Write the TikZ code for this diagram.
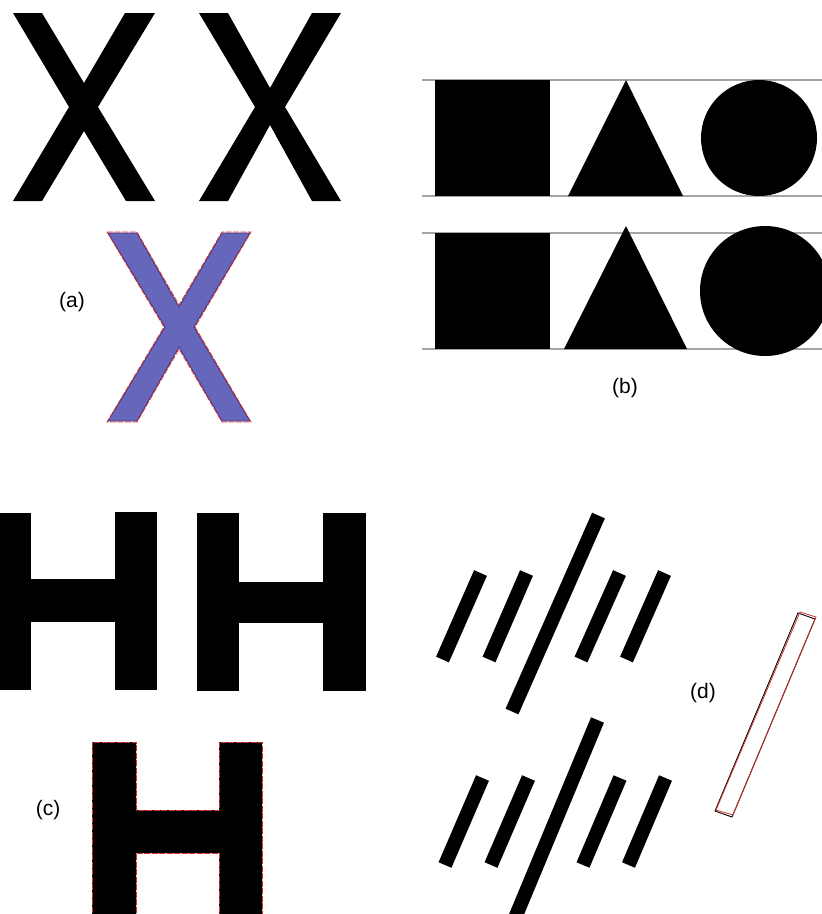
\documentclass[tikz,border=0pt]{standalone}
\usepackage{fontspec}
\setmainfont{Liberation Sans}
\definecolor{xblue}{RGB}{102,102,187}
\definecolor{xdark}{RGB}{60,50,130}
\definecolor{xred}{RGB}{210,50,50}
\definecolor{guide}{RGB}{165,165,165}
\begin{document}
\begin{tikzpicture}[x=1pt,y=-1pt,
  lbl/.style={font=\fontsize{21}{24}\selectfont, inner sep=0pt},
  bar/.style={line width=14pt, line cap=butt},
  guideline/.style={guide, line width=1.3pt},
  reddash/.style={xred, line width=0.8pt, dash pattern=on 6pt off 1.5pt}]
\useasboundingbox (0,0) rectangle (822,914);
\clip (0,0) rectangle (822,914);
% (a) X shapes
\fill[black] (13,13)--(42,13)--(84,83)--(125,13)--(155,13)--(98,107)--(155,201)--(126,201)--(84,131)--(42,201)--(13,201)--(69,107)--cycle;
\fill[black] (199,13)--(228,13)--(270,88)--(312,13)--(341,13)--(285,107)--(341,201)--(312,201)--(270,125)--(228,201)--(199,201)--(255,107)--cycle;
\filldraw[fill=xblue, draw=xdark, line width=0.8pt] (108,233)--(137,233)--(179,307)--(222,233)--(250,233)--(194,327)--(250,421)--(222,421)--(179,347)--(137,421)--(108,421)--(165,327)--cycle;
\draw[reddash] (107,232)--(137,232)--(179,305)--(222,232)--(251,232)--(195,327)--(251,422)--(222,422)--(179,349)--(137,422)--(107,422)--(164,327)--cycle;
\node[lbl] (la) at (72,302) {(a)};
% (b) shapes
\draw[guideline] (422,80)--(822,80);
\draw[guideline] (422,196)--(822,196);
\draw[guideline] (422,233)--(822,233);
\draw[guideline] (422,349)--(822,349);
\fill[black] (435,80) rectangle (550,196);
\fill[black] (626,80)--(683,196)--(568,196)--cycle;
\fill[black] (759,138) circle[radius=58];
\fill[black] (435,233) rectangle (550,349);
\fill[black] (626,226)--(687,349)--(564,349)--cycle;
\fill[black] (765,291) circle[radius=65];
\node[lbl] (lb) at (625,388) {(b)};
% (c) H shapes
\fill[black] (-11,513) rectangle (31,690);
\fill[black] (115,512) rectangle (157,690);
\fill[black] (20,579) rectangle (125,622);
\fill[black] (197,513) rectangle (239,691);
\fill[black] (323,513) rectangle (366,691);
\fill[black] (230,582) rectangle (330,623);
\fill[black] (92,920)--(92,742)--(136,742)--(136,810)--(219,810)--(219,742)--(262,742)--(262,920)--(219,920)--(219,853)--(136,853)--(136,920)--cycle;
\draw[reddash] (92,920)--(92,742)--(136,742)--(136,810)--(219,810)--(219,742)--(262,742)--(262,920);
\draw[reddash] (136,920)--(136,853)--(219,853)--(219,920);
\node[lbl] (lc) at (48,810) {(c)};
% (d) bars
\draw[bar] (598.5,515.5)--(512,711.5);
\draw[bar] (480.5,573)--(442.5,659.5);
\draw[bar] (526.5,573)--(489,659.5);
\draw[bar] (619.5,573)--(581,659.5);
\draw[bar] (664.5,573)--(626.5,659.5);
\draw[bar] (597.5,720)--(510,930);
\draw[bar] (482.5,778)--(445,865);
\draw[bar] (528.5,778)--(491,865);
\draw[bar] (620,778)--(583,865);
\draw[bar] (665.5,778)--(628.5,865);
\draw[black, line width=0.9pt] (798,613)--(815,619)--(732,817)--(715,811)--cycle;
\draw[xred, line width=0.8pt] (800,612)--(816,617)--(733,815)--(716,810)--cycle;
\node[lbl] (ld) at (703,693) {(d)};
\end{tikzpicture}
\end{document}
